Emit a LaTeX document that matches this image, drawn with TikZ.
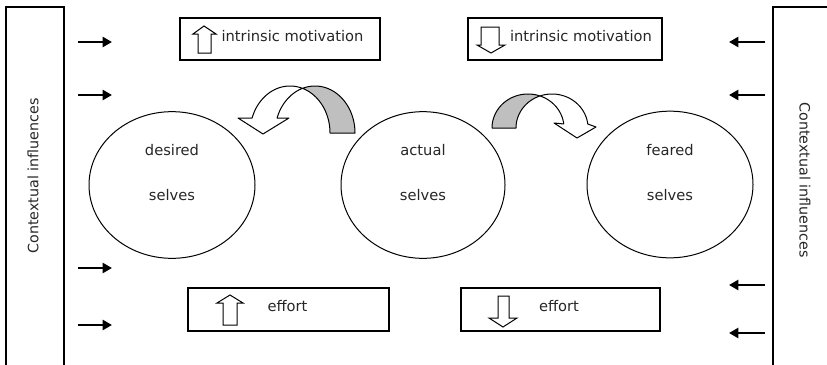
\documentclass[tikz,border=0pt]{standalone}
\usepackage{fontspec}
\setmainfont{DejaVu Sans}
\usetikzlibrary{arrows.meta,shapes.geometric}
\begin{document}
\begin{tikzpicture}[x=0.75pt,y=-0.75pt,
  sidebox/.style={draw, line width=0.8pt, inner sep=0pt, minimum height=274.5pt},
  infobox/.style={draw, line width=0.8pt, inner sep=0pt},
  selfnode/.style={draw, ellipse, line width=0.75pt, inner sep=0pt, minimum width=124.5pt, minimum height=110pt},
  lbl/.style={font=\fontsize{11}{13}\selectfont, text=black!85, inner sep=0pt},
  ctx/.style={font=\fontsize{10.7}{13}\selectfont, text=black!85, inner sep=0pt},
  push/.style={line width=2pt, -{Triangle[length=7pt,width=7.5pt]}},
  blockarr/.style={draw, line width=0.75pt, fill=white, line join=miter},
  band/.style={draw, line width=0.75pt, line join=round},
]
\useasboundingbox (0,0) rectangle (827,364);

% side boxes
\node[sidebox, minimum width=43.5pt] (ctxL) at (35,190) {};
\node[sidebox, minimum width=48pt] (ctxR) at (805,190) {};
\node[ctx, rotate=90] (ctxLt) at (33,176) {Contextual influences};
\node[ctx, rotate=-90] (ctxRt) at (805,180) {Contextual influences};

% top and bottom boxes
\node[infobox, minimum width=150pt, minimum height=31.5pt] (imUp) at (280,39) {};
\node[infobox, minimum width=145.5pt, minimum height=31.5pt] (imDown) at (565,39) {};
\node[infobox, minimum width=150.75pt, minimum height=32.25pt] (efUp) at (288.5,309.5) {};
\node[infobox, minimum width=149.25pt, minimum height=32.25pt] (efDown) at (560.5,309.5) {};
\node[lbl] (imUpT) at (292.5,36) {intrinsic motivation};
\node[lbl] (imDownT) at (581,36) {intrinsic motivation};
\node[lbl] (efUpT) at (287.5,306) {effort};
\node[lbl] (efDownT) at (559,306) {effort};

% block arrows inside boxes
\draw[blockarr] (198,53) -- (198,34) -- (193,34) -- (204,26) -- (216,34) -- (211,34) -- (211,53) -- cycle;
\draw[blockarr] (481,27) -- (481,45) -- (477,45) -- (491,53) -- (505,45) -- (499,45) -- (499,27) -- cycle;
\draw[blockarr] (223,325) -- (223,303) -- (217,303) -- (230,295) -- (243,303) -- (237,303) -- (237,325) -- cycle;
\draw[blockarr] (498,296) -- (498,318) -- (489,318) -- (503,327) -- (517,318) -- (509,318) -- (509,296) -- cycle;

% selves
\node[selfnode] (desired) at (172,185) {};
\node[selfnode, minimum width=123pt] (actual) at (423,185) {};
\node[selfnode] (feared) at (670,184.5) {};
\node[lbl] at (172,150.5) {desired};
\node[lbl] at (172,195.5) {selves};
\node[lbl] at (423,150.5) {actual};
\node[lbl] at (423,195.5) {selves};
\node[lbl] at (670,150.5) {feared};
\node[lbl] at (670,195.5) {selves};

% left curved arrow
\filldraw[band, fill=gray!50]
  plot[domain=0:108.2, samples=40] ({315+40*cos(108.2-\x)},{133-47*sin(108.2-\x)})
  -- plot[domain=0:71.8, samples=40] ({290+40*cos(\x)},{133-47*sin(\x)}) -- cycle;
\draw[band, fill=white]
  plot[domain=71.8:161.4, samples=40] ({290+40*cos(\x)},{133-47*sin(\x)})
  -- (238,118) -- (263,134) -- (289,118)
  -- plot[domain=0:53.2, samples=40] ({315+40*cos(161.4-\x)},{133-47*sin(161.4-\x)}) -- cycle;

% right curved arrow
\filldraw[band, fill=gray!50]
  plot[domain=70.5:180, samples=40] ({528+36*cos(\x)},{128-34*sin(\x)})
  -- plot[domain=0:70.5, samples=40] ({552+36*cos(180-\x)},{128-34*sin(180-\x)}) -- cycle;
\draw[band, fill=white]
  plot[domain=0:102.7, samples=40] ({552+36*cos(109.5-\x)},{128-34*sin(109.5-\x)})
  -- (596,127) -- (577,138) -- (554,123)
  -- plot[domain=6.8:70.5, samples=40] ({528+36*cos(\x)},{128-34*sin(\x)}) -- cycle;

% contextual pushes
\coordinate (l1s) at (78,42);  \coordinate (l1e) at (112,42);
\coordinate (l2s) at (78,95);  \coordinate (l2e) at (112,95);
\coordinate (l3s) at (78,268); \coordinate (l3e) at (112,268);
\coordinate (l4s) at (78,325); \coordinate (l4e) at (112,325);
\coordinate (r1s) at (765,42);  \coordinate (r1e) at (729,42);
\coordinate (r2s) at (765,95);  \coordinate (r2e) at (729,95);
\coordinate (r3s) at (765,285); \coordinate (r3e) at (729,285);
\coordinate (r4s) at (765,333); \coordinate (r4e) at (729,333);
\foreach \a in {l1,l2,l3,l4,r1,r2,r3,r4} \draw[push] (\a s) -- (\a e);
\end{tikzpicture}
\end{document}
